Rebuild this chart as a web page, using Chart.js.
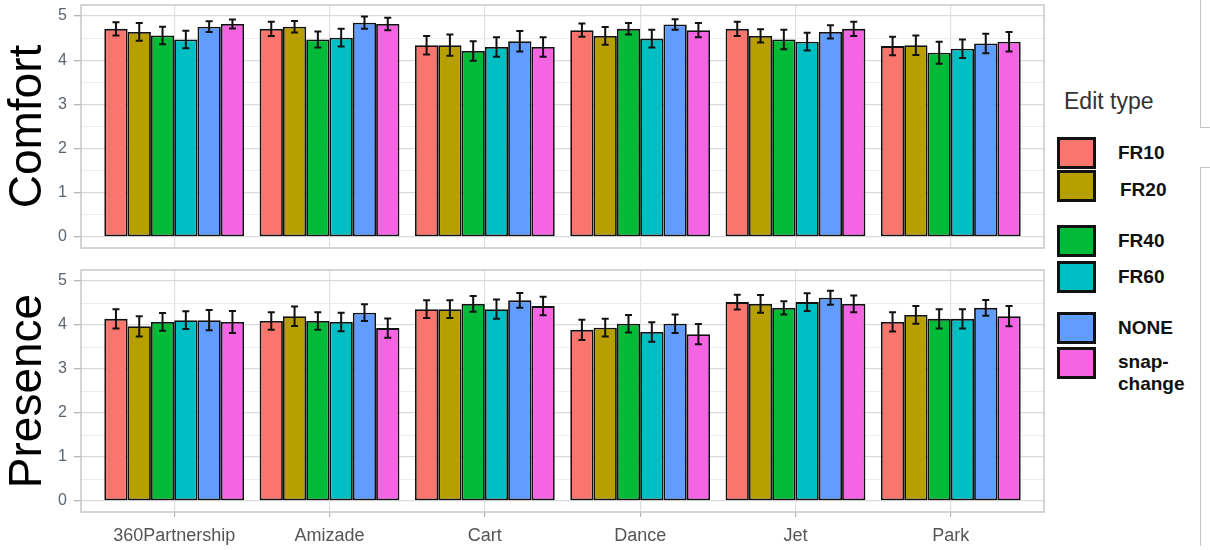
<!DOCTYPE html>
<html>
<head>
<meta charset="utf-8">
<script src="https://cdn.jsdelivr.net/npm/chart.js@4.4.1/dist/chart.umd.min.js"></script>
<style>
  body { margin: 0; background: #fff; font-family: "Liberation Sans", Arial, sans-serif; }
  #wrap { position: relative; width: 1210px; height: 550px; overflow: hidden; }
  canvas { position: absolute; left: 0; }
  #legendTitle { position: absolute; left: 1064px; top: 88px; font-size: 23px; color: #333; }
  .lbox { position: absolute; left: 1057px; width: 33px; height: 26px; border: 3px solid #111; }
  .ltxt { position: absolute; left: 1118px; font-size: 19px; font-weight: bold; color: #111; line-height: 22px; width: 70px; }
  .deco { position: absolute; border-color: #c4c4c4; border-style: solid; border-width: 0; }
</style>
</head>
<body>
<div id="wrap">
  <canvas id="comfortChart" width="1050" height="260" style="top:0"></canvas>
  <canvas id="presenceChart" width="1050" height="290" style="top:260px"></canvas>
  <div id="legendTitle">Edit type</div>
  <div id="legend"></div>
  <div class="deco" style="left:1200px;top:-2px;width:20px;height:129px;border-left-width:1.5px;border-bottom-width:1.5px"></div>
  <div class="deco" style="left:1200px;top:167px;width:20px;height:378px;border-left-width:1.5px;border-top-width:1.5px"></div>
</div>
<script>
// facets / categories
const categories = ['360Partnership', 'Amizade', 'Cart', 'Dance', 'Jet', 'Park'];
const editTypes = ['FR10', 'FR20', 'FR40', 'FR60', 'NONE', 'snap-change'];
const editColors = ['#F8766D', '#B79F00', '#00BA38', '#00BFC4', '#619CFF', '#F564E3'];

// Comfort means
const comfortFR10 = [4.71, 4.71, 4.34, 4.68, 4.71, 4.32];
const comfortFR20 = [4.64, 4.76, 4.34, 4.55, 4.55, 4.34];
const comfortFR40 = [4.56, 4.47, 4.21, 4.71, 4.47, 4.17];
const comfortFR60 = [4.47, 4.51, 4.30, 4.49, 4.42, 4.26];
const comfortNONE = [4.76, 4.85, 4.43, 4.81, 4.64, 4.38];
const comfortSnap = [4.82, 4.82, 4.30, 4.68, 4.71, 4.42];
// Comfort error (half-width)
const comfortErrFR10 = [0.15, 0.16, 0.21, 0.15, 0.16, 0.21];
const comfortErrFR20 = [0.20, 0.13, 0.24, 0.20, 0.15, 0.22];
const comfortErrFR40 = [0.20, 0.18, 0.22, 0.13, 0.22, 0.25];
const comfortErrFR60 = [0.20, 0.20, 0.22, 0.20, 0.20, 0.21];
const comfortErrNONE = [0.12, 0.14, 0.23, 0.12, 0.15, 0.22];
const comfortErrSnap = [0.10, 0.14, 0.22, 0.16, 0.16, 0.22];

// Presence means
const presenceFR10 = [4.14, 4.09, 4.36, 3.89, 4.52, 4.07];
const presenceFR20 = [3.97, 4.20, 4.36, 3.94, 4.48, 4.23];
const presenceFR40 = [4.07, 4.09, 4.48, 4.03, 4.39, 4.14];
const presenceFR60 = [4.11, 4.07, 4.36, 3.84, 4.52, 4.14];
const presenceNONE = [4.11, 4.28, 4.56, 4.03, 4.62, 4.39];
const presenceSnap = [4.07, 3.93, 4.43, 3.79, 4.48, 4.20];
// Presence error
const presenceErrFR10 = [0.22, 0.20, 0.20, 0.23, 0.17, 0.22];
const presenceErrFR20 = [0.23, 0.22, 0.20, 0.20, 0.20, 0.20];
const presenceErrFR40 = [0.20, 0.20, 0.18, 0.20, 0.15, 0.22];
const presenceErrFR60 = [0.20, 0.21, 0.22, 0.22, 0.20, 0.22];
const presenceErrNONE = [0.23, 0.19, 0.17, 0.21, 0.16, 0.18];
const presenceErrSnap = [0.25, 0.22, 0.21, 0.23, 0.19, 0.23];

const yTicks = [0, 0.5, 1, 1.5, 2, 2.5, 3, 3.5, 4, 4.5, 5];

const comfortSeries = [comfortFR10, comfortFR20, comfortFR40, comfortFR60, comfortNONE, comfortSnap];
const comfortErrors = [comfortErrFR10, comfortErrFR20, comfortErrFR40, comfortErrFR60, comfortErrNONE, comfortErrSnap];
const presenceSeries = [presenceFR10, presenceFR20, presenceFR40, presenceFR60, presenceNONE, presenceSnap];
const presenceErrors = [presenceErrFR10, presenceErrFR20, presenceErrFR40, presenceErrFR60, presenceErrNONE, presenceErrSnap];

// panel frame + error bars, ggplot style
const panelPlugin = {
  id: 'panel',
  afterDatasetsDraw(chart) {
    const ctx = chart.ctx;
    const y = chart.scales.y;
    ctx.save();
    ctx.strokeStyle = '#111';
    ctx.lineWidth = 2;
    chart.data.datasets.forEach((ds, di) => {
      const meta = chart.getDatasetMeta(di);
      meta.data.forEach((bar, i) => {
        const v = ds.data[i].y, e = ds.errors[i];
        const top = y.getPixelForValue(v + e), bot = y.getPixelForValue(v - e);
        ctx.beginPath();
        ctx.moveTo(bar.x, top); ctx.lineTo(bar.x, bot);
        ctx.moveTo(bar.x - 3.5, top); ctx.lineTo(bar.x + 3.5, top);
        ctx.moveTo(bar.x - 3.5, bot); ctx.lineTo(bar.x + 3.5, bot);
        ctx.stroke();
      });
    });
    const a = chart.chartArea;
    ctx.strokeStyle = '#c8c8c8';
    ctx.lineWidth = 1.5;
    ctx.strokeRect(a.left, a.top, a.right - a.left, a.bottom - a.top);
    ctx.restore();
  }
};

function makeChart(id, title, series, errors, showX) {
  const datasets = editTypes.map((name, k) => ({
    label: name,
    data: series[k].map((v, i) => ({ x: i, y: v })),
    errors: errors[k],
    backgroundColor: editColors[k],
    borderColor: '#111',
    borderWidth: 1.8,
    borderSkipped: false,
    categoryPercentage: 0.9,
    barPercentage: 1
  }));
  return new Chart(document.getElementById(id), {
    type: 'bar',
    data: { datasets },
    plugins: [panelPlugin],
    options: {
      responsive: false,
      animation: false,
      layout: { padding: { top: showX ? 10 : 5, right: 6, bottom: 0, left: 0 } },
      plugins: { legend: { display: false }, tooltip: { enabled: false } },
      scales: {
        x: {
          type: 'linear',
          offset: false,
          min: -0.6,
          max: 5.6,
          afterBuildTicks: s => { s.ticks = categories.map((c, i) => ({ value: i })); },
          afterFit: s => { s.height = showX ? 38 : 12; s.paddingLeft = 0; s.paddingRight = 0; },
          grid: { offset: false, color: '#e0e0e0', lineWidth: 1.2, drawTicks: showX, tickLength: 5, tickColor: '#b5b5b5' },
          border: { display: false },
          ticks: {
            display: showX,
            padding: 8,
            color: '#555',
            font: { family: 'Liberation Sans', size: 18 },
            callback: v => categories[v]
          }
        },
        y: {
          min: -0.25,
          max: 5.25,
          afterBuildTicks: s => { s.ticks = yTicks.map(v => ({ value: v })); },
          afterFit: s => { s.width = 81; s.paddingTop = 0; s.paddingBottom = 0; },
          grid: {
            color: c => (c.tick && c.tick.value % 1) ? '#ececec' : '#dbdbdb',
            lineWidth: c => (c.tick && c.tick.value % 1) ? 0.9 : 1.3,
            tickLength: 7,
            tickColor: c => (c.tick && c.tick.value % 1) ? 'rgba(0,0,0,0)' : '#b5b5b5'
          },
          border: { display: false },
          ticks: {
            padding: 7,
            color: '#5c6570',
            font: { family: 'Liberation Sans', size: 16 },
            callback: v => (v % 1 === 0 ? String(v) : '')
          },
          title: {
            display: true,
            text: title,
            color: '#000',
            padding: { top: 5, bottom: 0 },
            font: { family: 'Liberation Sans', size: 46, lineHeight: 1 }
          }
        }
      }
    }
  });
}

makeChart('comfortChart', 'Comfort', comfortSeries, comfortErrors, false);
makeChart('presenceChart', 'Presence', presenceSeries, presenceErrors, true);

// legend with the original's uneven grouping
const legendTops = [137, 170, 225, 261, 312, 347];
const legend = document.getElementById('legend');
editTypes.forEach((name, k) => {
  const box = document.createElement('div');
  box.className = 'lbox';
  box.style.top = legendTops[k] + 'px';
  box.style.background = editColors[k];
  legend.appendChild(box);
  const txt = document.createElement('div');
  txt.className = 'ltxt';
  txt.textContent = name;
  txt.style.top = (legendTops[k] + (name.length > 6 ? 4 : 5) + (k === 1 ? 4 : 0)) + 'px';
  if (k === 1) txt.style.left = '1120px';
  legend.appendChild(txt);
});
</script>
</body>
</html>
